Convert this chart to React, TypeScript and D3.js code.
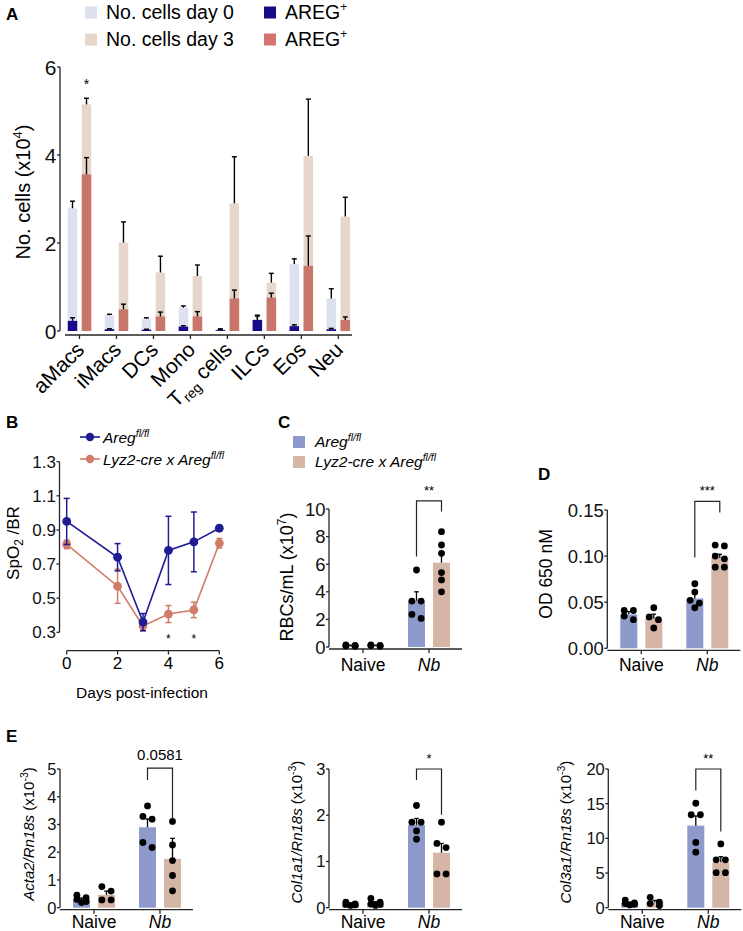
import React from 'react';
import * as d3 from 'd3';

const FONT = "'Liberation Sans', Arial, Helvetica, sans-serif";
const AX = '#262626';

// ---------- Panel A data ----------
const cellTypes = ['aMacs', 'iMacs', 'DCs', 'Mono', 'Treg cells', 'ILCs', 'Eos', 'Neu'];
const day0Total = [2.79, 0.36, 0.28, 0.53, 0.03, 0.28, 1.52, 0.74];
const day0TotalErr = [0.16, 0.02, 0.02, 0.04, 0.02, 0.08, 0.12, 0.22];
const day0Areg = [0.23, 0.04, 0.03, 0.1, 0.02, 0.25, 0.11, 0.04];
const day0AregErr = [0.07, 0.01, 0.01, 0.02, 0.01, 0.09, 0.03, 0.02];
const day3Total = [5.15, 2.01, 1.33, 1.25, 2.9, 1.1, 3.98, 2.6];
const day3TotalErr = [0.14, 0.47, 0.37, 0.25, 1.06, 0.21, 1.29, 0.44];
const day3Areg = [3.56, 0.49, 0.33, 0.33, 0.74, 0.76, 1.48, 0.25];
const day3AregErr = [0.38, 0.12, 0.1, 0.11, 0.19, 0.1, 0.68, 0.07];
const aSignif = ['*', '', '', '', '', '', '', ''];
const aTicks = [0, 2, 4, 6];

// ---------- Panel B data ----------
const days = [0, 2, 3, 4, 5, 6];
const aregFlMean = [0.95, 0.74, 0.36, 0.78, 0.83, 0.91];
const aregFlSem = [0.135, 0.08, 0.05, 0.2, 0.175, 0.015];
const lyzMean = [0.815, 0.57, 0.337, 0.407, 0.431, 0.822];
const lyzSem = [0.025, 0.1, 0.03, 0.05, 0.045, 0.028];
const bSigDays = [4, 5];
const bYTicks = [0.3, 0.5, 0.7, 0.9, 1.1, 1.3];
const bXTicks = [0, 2, 4, 6];

// ---------- Panels C, D, E data ----------
const groups = ['Naive', 'Nb'];

const rbcFlMean = [0.1, 3.35];
const rbcFlSem = [0.03, 0.65];
const rbcFlDots = [[0.05, 0.12, 0.15, 0.08], [5.58, 3.33, 3.33, 2.36, 2.07]];
const rbcLyzMean = [0.1, 6.11];
const rbcLyzSem = [0.03, 0.68];
const rbcLyzDots = [[0.1, 0.05, 0.15, 0.12], [8.36, 7.39, 6.79, 5.39, 4.86, 4.0]];
const rbcTicks = [0, 2, 4, 6, 8, 10];
const rbcBracket = [10.59, 6.55, 9.81];

const odFlMean = [0.0368, 0.054];
const odFlSem = [0.003, 0.005];
const odFlDots = [[0.041, 0.041, 0.035, 0.031], [0.07, 0.061, 0.052, 0.049, 0.044]];
const odLyzMean = [0.032, 0.098];
const odLyzSem = [0.005, 0.004];
const odLyzDots = [[0.044, 0.034, 0.031, 0.022], [0.111, 0.112, 0.1, 0.097, 0.088, 0.088]];
const odTicks = [0, 0.05, 0.1, 0.15];
const odBracket = [0.1594, 0.0985, 0.1472];

const actaFlMean = [0.3, 2.9];
const actaFlSem = [0.05, 0.3];
const actaFlDots = [[0.45, 0.36, 0.3, 0.22, 0.19], [3.67, 3.29, 3.19, 2.35, 2.17]];
const actaLyzMean = [0.46, 1.76];
const actaLyzSem = [0.14, 0.74];
const actaLyzDots = [[0.76, 0.6, 0.28, 0.28], [3.11, 2.26, 1.7, 1.16, 0.61]];
const actaTicks = [0, 1, 2, 3, 4, 5];
const actaBracket = [5.03, 4.6, 3.19];

const col1FlMean = [0.07, 1.79];
const col1FlSem = [0.015, 0.14];
const col1FlDots = [[0.05, 0.06, 0.07, 0.08, 0.12], [2.21, 1.85, 1.85, 1.66, 1.48]];
const col1LyzMean = [0.1, 1.19];
const col1LyzSem = [0.03, 0.2];
const col1LyzDots = [[0.05, 0.08, 0.2, 0.12, 0.07], [1.85, 1.39, 1.3, 0.73, 0.73]];
const col1Ticks = [0, 1, 2, 3];
const col1Bracket = [3.0, 2.76, 2.01];

const col3FlMean = [0.66, 11.83];
const col3FlSem = [0.12, 1.4];
const col3FlDots = [[0.4, 0.6, 0.5, 1.1, 0.7], [15.06, 13.4, 13.4, 9.4, 8.0]];
const col3LyzMean = [0.8, 6.55];
const col3LyzSem = [0.25, 0.8];
const col3LyzDots = [[0.3, 0.8, 1.5, 0.6], [9.2, 6.9, 6.9, 5.05, 5.05]];
const col3Ticks = [0, 5, 10, 15, 20];
const col3Bracket = [20.0, 16.9, 10.97];

// colours
const C_D0 = '#dde0ef';
const C_AREG0 = '#170b88';
const C_D3 = '#e6d6cc';
const C_AREG3 = '#c8766a';
const C_LEG3 = '#d6736c';
const B_BLUE = '#1e1b94';
const B_RED = '#d07c68';
const BAR_BLUE = '#8e9acb';
const BAR_BEIGE = '#d5b5a6';

function PanelLetter({ x, y, t }: { x: number; y: number; t: string }) {
  return (
    <text x={x} y={y} fontSize={17} fontWeight="bold" fontFamily={FONT} fill="#000">
      {t}
    </text>
  );
}

function YAxis({ x, y, ticks, fmt, fontSize }: { x: number; y: d3.ScaleLinear<number, number>; ticks: number[]; fmt: (v: number) => string; fontSize: number }) {
  const r = y.range();
  return (
    <g>
      <line x1={x} x2={x} y1={r[0]} y2={r[1]} stroke={AX} strokeWidth={1.3} />
      {ticks.map((t) => (
        <g key={t}>
          <line x1={x - 3} x2={x} y1={y(t)} y2={y(t)} stroke={AX} strokeWidth={1.3} />
          <text x={x - 3.5} y={y(t)} dy="0.36em" textAnchor="end" fontSize={fontSize} fontFamily={FONT} fill="#111">
            {fmt(t)}
          </text>
        </g>
      ))}
    </g>
  );
}

function ErrUp({ x, y1, y2, cap = 5, color = '#000', w = 1.4 }: { x: number; y1: number; y2: number; cap?: number; color?: string; w?: number }) {
  return (
    <g stroke={color} strokeWidth={w}>
      <line x1={x} x2={x} y1={y1} y2={y2} />
      <line x1={x - cap / 2} x2={x + cap / 2} y1={y2} y2={y2} />
    </g>
  );
}

function PanelA() {
  const y = d3.scaleLinear().domain([0, 6]).range([331, 67]);
  const x = d3.scalePoint<string>().domain(cellTypes).range([79.5, 338.3]);
  const bw = 9.5;
  const off = 7;
  const fs = 19.5;
  return (
    <g fontFamily={FONT}>
      <PanelLetter x={6} y={20} t="A" />
      {/* legend */}
      <rect x={85} y={6.5} width={12} height={12} fill={C_D0} />
      <text x={106} y={18.5} fontSize={fs}>No. cells day 0</text>
      <rect x={85} y={33.5} width={12} height={12} fill={C_D3} />
      <text x={106} y={45.5} fontSize={fs}>No. cells day 3</text>
      <rect x={264} y={6.5} width={12} height={12} fill={C_AREG0} />
      <text x={285} y={18.5} fontSize={fs}>
        AREG<tspan dy={-8} fontSize={12}>+</tspan>
      </text>
      <rect x={264} y={33.5} width={12} height={12} fill={C_LEG3} />
      <text x={285} y={45.5} fontSize={fs}>
        AREG<tspan dy={-8} fontSize={12}>+</tspan>
      </text>

      <YAxis x={60} y={y} ticks={aTicks} fmt={(v) => String(v)} fontSize={21} />
      <line x1={65} x2={352} y1={335} y2={335} stroke={AX} strokeWidth={1.3} />
      <g transform="translate(30,192) rotate(-90)">
        <text x={0} y={0} textAnchor="middle" fontSize={20}>
          No. cells (x10<tspan dy={-8} fontSize={13}>4</tspan><tspan dy={8}>)</tspan>
        </text>
      </g>

      {cellTypes.map((c, i) => {
        const cx = x(c) as number;
        const lx = cx - off;
        const rx = cx + off;
        return (
          <g key={c}>
            <line x1={cx} x2={cx} y1={335} y2={339} stroke={AX} strokeWidth={1.3} />
            <rect x={lx - bw / 2} y={y(day0Total[i])} width={bw} height={y(0) - y(day0Total[i])} fill={C_D0} />
            <ErrUp x={lx} y1={y(day0Total[i])} y2={y(day0Total[i] + day0TotalErr[i])} cap={5} />
            <rect x={lx - bw / 2} y={y(day0Areg[i])} width={bw} height={y(0) - y(day0Areg[i])} fill={C_AREG0} />
            <ErrUp x={lx} y1={y(day0Areg[i])} y2={y(day0Areg[i] + day0AregErr[i])} cap={5} />
            <rect x={rx - bw / 2} y={y(day3Total[i])} width={bw} height={y(0) - y(day3Total[i])} fill={C_D3} />
            <ErrUp x={rx} y1={y(day3Total[i])} y2={y(day3Total[i] + day3TotalErr[i])} cap={5} />
            <rect x={rx - bw / 2} y={y(day3Areg[i])} width={bw} height={y(0) - y(day3Areg[i])} fill={C_AREG3} />
            <ErrUp x={rx} y1={y(day3Areg[i])} y2={y(day3Areg[i] + day3AregErr[i])} cap={5} />
            {aSignif[i] && (
              <text x={rx} y={y(day3Total[i] + day3TotalErr[i]) - 9} textAnchor="middle" fontSize={14}>
                {aSignif[i]}
              </text>
            )}
            <g transform={`translate(${(cx + 6).toFixed(2)},351) rotate(-45)`}>
              <text x={0} y={0} textAnchor="end" fontSize={21}>
                {c === 'Treg cells' ? (
                  <>
                    T<tspan dy={5} fontSize={14}>reg</tspan>
                    <tspan dy={-5}> cells</tspan>
                  </>
                ) : (
                  c
                )}
              </text>
            </g>
          </g>
        );
      })}
    </g>
  );
}

function PanelB() {
  const y = d3.scaleLinear().domain([0.3, 1.3]).range([632.3, 461.7]);
  const x = d3.scaleLinear().domain([0, 6]).range([66.7, 219.3]);
  const line = d3
    .line<number>()
    .x((_, i) => x(days[i]))
    .y((d) => y(d));
  const series = [
    { mean: lyzMean, sem: lyzSem, color: B_RED },
    { mean: aregFlMean, sem: aregFlSem, color: B_BLUE },
  ];
  return (
    <g fontFamily={FONT}>
      <PanelLetter x={6} y={428} t="B" />
      <line x1={80} x2={100} y1={437} y2={437} stroke={B_BLUE} strokeWidth={1.6} />
      <circle cx={90} cy={437} r={4.2} fill={B_BLUE} />
      <text x={103} y={442.5} fontSize={15.5} fontStyle="italic">
        Areg<tspan dy={-6} fontSize={10.5}>fl/fl</tspan>
      </text>
      <line x1={80} x2={100} y1={459} y2={459} stroke={B_RED} strokeWidth={1.6} />
      <circle cx={90} cy={459} r={4.2} fill={B_RED} />
      <text x={103} y={464.5} fontSize={15.5} fontStyle="italic">
        Lyz2-cre x Areg<tspan dy={-6} fontSize={10.5}>fl/fl</tspan>
      </text>

      <YAxis x={59.5} y={y} ticks={bYTicks} fmt={(v) => v.toFixed(1)} fontSize={17} />
      <line x1={66.7} x2={219.3} y1={650.7} y2={650.7} stroke={AX} strokeWidth={1.3} />
      {bXTicks.map((t) => (
        <g key={t}>
          <line x1={x(t)} x2={x(t)} y1={650.7} y2={654.5} stroke={AX} strokeWidth={1.3} />
          <text x={x(t)} y={669} textAnchor="middle" fontSize={17}>
            {t}
          </text>
        </g>
      ))}
      <text x={142} y={698} textAnchor="middle" fontSize={15.5}>
        Days post-infection
      </text>
      <g transform="translate(19,543) rotate(-90)">
        <text x={0} y={0} textAnchor="middle" fontSize={17}>
          SpO<tspan dy={4} fontSize={12}>2</tspan>
          <tspan dy={-4}> /BR</tspan>
        </text>
      </g>

      {series.map((s, si) => (
        <g key={si}>
          <path d={line(s.mean) || ''} fill="none" stroke={s.color} strokeWidth={1.6} />
          {s.mean.map((m, i) => (
            <g key={i} stroke={s.color} strokeWidth={1.5}>
              <line x1={x(days[i])} x2={x(days[i])} y1={y(m - s.sem[i])} y2={y(m + s.sem[i])} />
              <line x1={x(days[i]) - 3} x2={x(days[i]) + 3} y1={y(m - s.sem[i])} y2={y(m - s.sem[i])} />
              <line x1={x(days[i]) - 3} x2={x(days[i]) + 3} y1={y(m + s.sem[i])} y2={y(m + s.sem[i])} />
              <circle cx={x(days[i])} cy={y(m)} r={4.4} fill={s.color} stroke="none" />
            </g>
          ))}
        </g>
      ))}
      {bSigDays.map((d) => (
        <text key={d} x={x(d)} y={643} textAnchor="middle" fontSize={12}>
          *
        </text>
      ))}
    </g>
  );
}

function swarm(vals: number[], y: (v: number) => number): number[] {
  const idx = vals.map((_, i) => i).sort((a, b) => vals[b] - vals[a]);
  const offs = new Array(vals.length).fill(0);
  let row: number[] = [];
  let rowStart = -Infinity;
  const flush = () => {
    if (row.length === 2) {
      offs[row[0]] = -4.6;
      offs[row[1]] = 4.6;
    } else if (row.length === 1) offs[row[0]] = 0;
  };
  for (const i of idx) {
    const py = y(vals[i]);
    if (row.length === 0 || row.length >= 2 || py - rowStart > 7) {
      flush();
      row = [i];
      rowStart = py;
    } else row.push(i);
  }
  flush();
  return offs;
}

type PanelProps = {
  axisX: number;
  zeroY: number;
  topY: number;
  max: number;
  ticks: number[];
  fmt: (v: number) => string;
  flMean: number[];
  flSem: number[];
  flDots: number[][];
  lyzMean: number[];
  lyzSem: number[];
  lyzDots: number[][];
  bracket: number[];
  brLabel: string;
  brFont: number;
  brGap: number;
  tickFont: number;
  xLabelY: number;
  yLabel: React.ReactNode;
  yLabelX: number;
  yLabelY: number;
  yLabelFont: number;
};

function DotBarPanel(p: PanelProps) {
  const y = d3.scaleLinear().domain([0, p.max]).range([p.zeroY, p.topY]);
  const x = d3.scalePoint<string>().domain(groups).range([p.axisX + 34, p.axisX + 100]);
  const bw = 17;
  const off = 12.5;
  const axY = p.zeroY + 2;
  const sets = [
    { mean: p.flMean, sem: p.flSem, dots: p.flDots, color: BAR_BLUE, dx: -off },
    { mean: p.lyzMean, sem: p.lyzSem, dots: p.lyzDots, color: BAR_BEIGE, dx: off },
  ];
  const nb = x('Nb') as number;
  const [bt, bl, brt] = p.bracket;
  return (
    <g fontFamily={FONT}>
      <YAxis x={p.axisX} y={y} ticks={p.ticks} fmt={p.fmt} fontSize={p.tickFont} />
      <line x1={p.axisX} x2={p.axisX + 133} y1={axY} y2={axY} stroke={AX} strokeWidth={1.3} />
      {groups.map((g) => (
        <g key={g}>
          <line x1={x(g)} x2={x(g)} y1={axY} y2={axY + 4} stroke={AX} strokeWidth={1.3} />
          <text x={x(g)} y={p.xLabelY} textAnchor="middle" fontSize={17.5} fontStyle={g === 'Nb' ? 'italic' : 'normal'}>
            {g}
          </text>
        </g>
      ))}
      <g transform={`translate(${p.yLabelX},${p.yLabelY}) rotate(-90)`}>
        <text x={0} y={0} textAnchor="middle" fontSize={p.yLabelFont}>
          {p.yLabel}
        </text>
      </g>
      {sets.map((s, si) =>
        groups.map((g, gi) => {
          const cx = (x(g) as number) + s.dx;
          const offs = swarm(s.dots[gi], y);
          return (
            <g key={`${si}-${gi}`}>
              <rect x={cx - bw / 2} y={y(s.mean[gi])} width={bw} height={y(0) - y(s.mean[gi])} fill={s.color} />
              <ErrUp x={cx} y1={y(s.mean[gi])} y2={y(s.mean[gi] + s.sem[gi])} cap={4.5} w={1.3} />
              {s.dots[gi].map((v, di) => (
                <circle key={di} cx={cx + offs[di]} cy={y(v)} r={3.4} fill="#000" />
              ))}
            </g>
          );
        })
      )}
      <path
        d={`M${nb - off},${y(bl)}V${y(bt)}H${nb + off}V${y(brt)}`}
        fill="none"
        stroke="#222"
        strokeWidth={1.2}
      />
      <text x={nb} y={y(bt) - p.brGap} textAnchor="middle" fontSize={p.brFont}>
        {p.brLabel}
      </text>
    </g>
  );
}

function GeneLabel({ gene }: { gene: string }) {
  return (
    <>
      <tspan fontStyle="italic">{gene}</tspan>
      <tspan> (x10</tspan>
      <tspan dy={-6} fontSize={10.5}>-3</tspan>
      <tspan dy={6}>)</tspan>
    </>
  );
}

function LegendC() {
  return (
    <g fontFamily={FONT}>
      <rect x={293} y={436} width={12} height={12} fill={BAR_BLUE} />
      <text x={315} y={447} fontSize={15.5} fontStyle="italic">
        Areg<tspan dy={-6} fontSize={10.5}>fl/fl</tspan>
      </text>
      <rect x={293} y={456} width={12} height={12} fill={BAR_BEIGE} />
      <text x={315} y={467} fontSize={15.5} fontStyle="italic">
        Lyz2-cre x Areg<tspan dy={-6} fontSize={10.5}>fl/fl</tspan>
      </text>
    </g>
  );
}

export default function App() {
  return (
    <svg
      width={743}
      height={931}
      viewBox="0 0 743 931"
      style={{ position: 'absolute', left: 0, top: 0, background: '#fff' }}
    >
      <rect x={0} y={0} width={743} height={931} fill="#fff" />
      <PanelA />
      <PanelB />
      <PanelLetter x={278} y={428} t="C" />
      <LegendC />
      <DotBarPanel
        axisX={329}
        zeroY={647}
        topY={509}
        max={10}
        ticks={rbcTicks}
        fmt={(v) => String(v)}
        flMean={rbcFlMean}
        flSem={rbcFlSem}
        flDots={rbcFlDots}
        lyzMean={rbcLyzMean}
        lyzSem={rbcLyzSem}
        lyzDots={rbcLyzDots}
        bracket={rbcBracket}
        brLabel="**"
        brFont={13}
        brGap={6}
        tickFont={18.5}
        xLabelY={671}
        yLabel={
          <>
            RBCs/mL (x10<tspan dy={-7} fontSize={12}>7</tspan>
            <tspan dy={7}>)</tspan>
          </>
        }
        yLabelX={293}
        yLabelY={577}
        yLabelFont={18}
      />
      <PanelLetter x={538} y={480} t="D" />
      <DotBarPanel
        axisX={607.3}
        zeroY={648.3}
        topY={510}
        max={0.15}
        ticks={odTicks}
        fmt={(v) => v.toFixed(2)}
        flMean={odFlMean}
        flSem={odFlSem}
        flDots={odFlDots}
        lyzMean={odLyzMean}
        lyzSem={odLyzSem}
        lyzDots={odLyzDots}
        bracket={odBracket}
        brLabel="***"
        brFont={13}
        brGap={6}
        tickFont={18.5}
        xLabelY={671}
        yLabel={<>OD 650 nM</>}
        yLabelX={552}
        yLabelY={574}
        yLabelFont={17.5}
      />
      <PanelLetter x={6} y={742} t="E" />
      <DotBarPanel
        axisX={60}
        zeroY={907.7}
        topY={769}
        max={5}
        ticks={actaTicks}
        fmt={(v) => String(v)}
        flMean={actaFlMean}
        flSem={actaFlSem}
        flDots={actaFlDots}
        lyzMean={actaLyzMean}
        lyzSem={actaLyzSem}
        lyzDots={actaLyzDots}
        bracket={actaBracket}
        brLabel="0.0581"
        brFont={15}
        brGap={8}
        tickFont={16.5}
        xLabelY={928}
        yLabel={<GeneLabel gene="Acta2/Rn18s" />}
        yLabelX={34}
        yLabelY={834}
        yLabelFont={15}
      />
      <DotBarPanel
        axisX={329}
        zeroY={907.7}
        topY={769}
        max={3}
        ticks={col1Ticks}
        fmt={(v) => String(v)}
        flMean={col1FlMean}
        flSem={col1FlSem}
        flDots={col1FlDots}
        lyzMean={col1LyzMean}
        lyzSem={col1LyzSem}
        lyzDots={col1LyzDots}
        bracket={col1Bracket}
        brLabel="*"
        brFont={13}
        brGap={6}
        tickFont={16.5}
        xLabelY={928}
        yLabel={<GeneLabel gene="Col1a1/Rn18s" />}
        yLabelX={302}
        yLabelY={832}
        yLabelFont={15}
      />
      <DotBarPanel
        axisX={608.3}
        zeroY={907.7}
        topY={769}
        max={20}
        ticks={col3Ticks}
        fmt={(v) => String(v)}
        flMean={col3FlMean}
        flSem={col3FlSem}
        flDots={col3FlDots}
        lyzMean={col3LyzMean}
        lyzSem={col3LyzSem}
        lyzDots={col3LyzDots}
        bracket={col3Bracket}
        brLabel="**"
        brFont={13}
        brGap={6}
        tickFont={16.5}
        xLabelY={928}
        yLabel={<GeneLabel gene="Col3a1/Rn18s" />}
        yLabelX={571}
        yLabelY={832}
        yLabelFont={15}
      />
    </svg>
  );
}
